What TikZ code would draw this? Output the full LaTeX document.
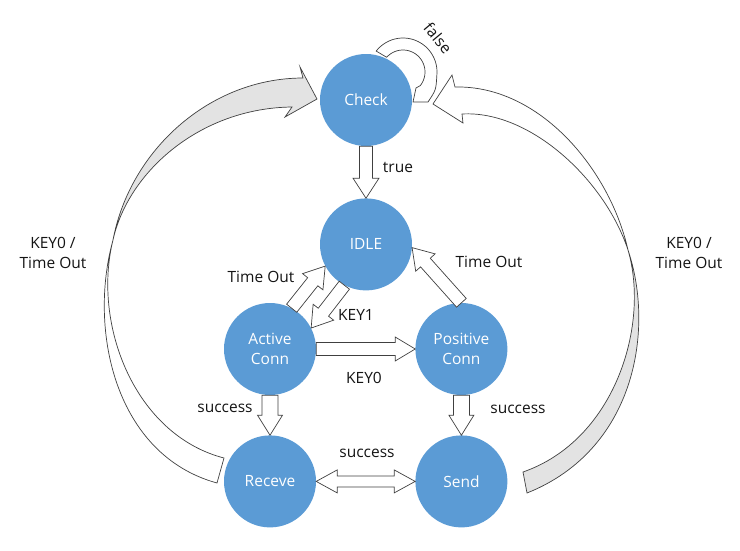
\documentclass[tikz,border=0pt]{standalone}
\usepackage{fontspec}
\setmainfont{Open Sans}
\usetikzlibrary{positioning,calc}

\definecolor{nodeblue}{HTML}{5B9BD5}
\definecolor{linegray}{HTML}{404040}
\definecolor{bandgray}{HTML}{E3E3E3}

% block arrow: shaft half width, head half width, from, to
\newcommand{\blockarrow}[4]{%
  \coordinate (ba-h) at ($(#4)!20pt!(#3)$);
  \draw[arrowline] ($(#3)!#1!90:(#4)$) -- ($(ba-h)!#1!-90:(#3)$) -- ($(ba-h)!#2!-90:(#3)$) -- (#4)
    -- ($(ba-h)!#2!90:(#3)$) -- ($(ba-h)!#1!90:(#3)$) -- ($(#3)!#1!-90:(#4)$) -- cycle;
}
% same, with a head at both ends
\newcommand{\dblockarrow}[4]{%
  \coordinate (ba-h) at ($(#4)!21pt!(#3)$);
  \coordinate (ba-t) at ($(#3)!21pt!(#4)$);
  \draw[arrowline] (#3) -- ($(ba-t)!#2!90:(#4)$) -- ($(ba-t)!#1!90:(#4)$) -- ($(ba-h)!#1!-90:(#3)$)
    -- ($(ba-h)!#2!-90:(#3)$) -- (#4) -- ($(ba-h)!#2!90:(#3)$) -- ($(ba-h)!#1!90:(#3)$)
    -- ($(ba-t)!#1!-90:(#4)$) -- ($(ba-t)!#2!-90:(#4)$) -- cycle;
}

\begin{document}
\begin{tikzpicture}[x=1pt,y=-1pt,
  state/.style={circle, fill=nodeblue, minimum size=92pt, inner sep=0pt, text=white,
    align=center, font=\fontsize{15.5}{20}\selectfont},
  lbl/.style={text=black!92, align=center, inner sep=0pt, font=\fontsize{15.5}{20}\selectfont},
  arrowline/.style={draw=linegray, line width=0.7pt, fill=white, line join=miter}]

\useasboundingbox (0,0) rectangle (740,550);

% Nodes
\node[state] (check) at (366,100) {Check};
\node[state, below=52pt of check] (idle) {IDLE};
\node[state] (active) at (270,349) {Active\\Conn};
\node[state, right=99pt of active] (pos) {Positive\\Conn};
\node[state, below=40pt of active] (rec) {Receve};
\node[state, below=40pt of pos] (send) {Send};

% Labels
\node[lbl] (ltrue) at (398,167) {true};
\node[lbl, rotate=-50] (lfalse) at (438,38) {false};
\node[lbl] (lto1) at (261,277) {Time Out};
\node[lbl] (lkey1) at (356,315) {KEY1};
\node[lbl] (lto2) at (489,262) {Time Out};
\node[lbl] (lkey0) at (364,378) {KEY0};
\node[lbl] (lsuc1) at (225,408) {success};
\node[lbl] (lsuc2) at (518,409) {success};
\node[lbl] (lsuc3) at (367,453) {success};
\node[lbl] (lret1) at (53,253) {KEY0 /\\Time Out};
\node[lbl] (lret2) at (689,253) {KEY0 /\\Time Out};

% Connect nodes
\blockarrow{6.5pt}{13pt}{check.south}{idle.north}
\blockarrow{6.5pt}{13pt}{active.62}{idle.208}
\blockarrow{6.5pt}{13pt}{idle.242}{active.27}
\blockarrow{6.5pt}{12pt}{active.east}{pos.west}
\blockarrow{6.5pt}{13pt}{pos.north}{idle.-4}
\blockarrow{8pt}{12.5pt}{active.south}{rec.north}
\blockarrow{8pt}{12.5pt}{pos.south}{send.north}
\dblockarrow{5.5pt}{11.5pt}{rec.east}{send.west}

% false loop
\draw[arrowline] plot[domain=142:-5, samples=40] ({403+34*cos(\x)},{72-34*sin(\x)})
  .. controls (436,90) .. (428,102) -- (413,102) -- (416,88)
  -- plot[domain=-38:138, samples=40] ({403+22*cos(\x)},{72-22*sin(\x)}) -- cycle;

% Receve back to Check
\coordinate (lx) at (113,240);
\draw[arrowline, fill=bandgray] (lx) .. controls (130,150) and (210,78) .. (303,78) -- (300,67)
  -- (317,99) -- (285,117) -- (292,107) .. controls (200,108) and (128,172) .. (lx) -- cycle;
\draw[arrowline] (lx) .. controls (92,325) and (135,435) .. (224,458) -- (217,483)
  .. controls (115,455) and (88,330) .. (lx) -- cycle;

% Send back to Check
\coordinate (rx) at (628,250);
\draw[arrowline] (rx) .. controls (610,170) and (540,85) .. (455,87) -- (452,75)
  -- (433,104) -- (463,123) -- (462,114) .. controls (530,110) and (605,180) .. (rx) -- cycle;
\draw[arrowline, fill=bandgray] (rx) .. controls (655,330) and (635,450) .. (527,493) -- (523,472)
  .. controls (615,440) and (650,325) .. (rx) -- cycle;

\end{tikzpicture}
\end{document}
